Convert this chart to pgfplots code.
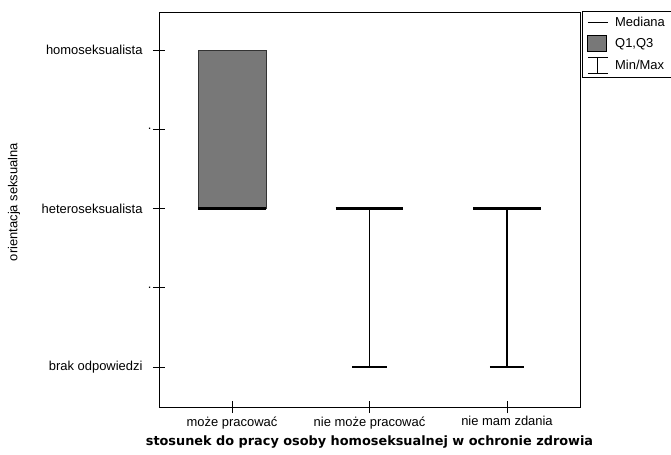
\documentclass[border=0pt]{standalone}
\usepackage{fontspec}
\setmainfont{Liberation Sans}
\newfontfamily\dejavu{DejaVu Sans}
\usepackage{pgfplots}
\pgfplotsset{compat=1.18}
\definecolor{boxgray}{gray}{0.47}
\begin{document}
\begin{tikzpicture}
\begin{axis}[
  scale only axis, width=421bp, height=395bp,
  xmin=0.469, xmax=3.531, ymin=-0.505, ymax=4.48,
  xtick={1,2,3}, xticklabels={może pracować, nie może pracować, nie mam zdania},
  ytick={0,1,2,3,4}, yticklabels={brak odpowiedzi,.\hspace*{-9bp},heteroseksualista,.\hspace*{-9bp},homoseksualista},
  xtick pos=bottom, ytick pos=left, tick align=center, major tick length=12bp,
  tick style={black, line width=0.8bp},
  axis line style={line width=0.8bp},
  ticklabel style={font=\fontsize{13}{15}\selectfont},
  yticklabel style={xshift=-7bp},
  xlabel={stosunek do pracy osoby homoseksualnej w ochronie zdrowia},
  xlabel style={font=\dejavu\bfseries\fontsize{12.9}{15}\selectfont, at={(rel axis cs:0.5,0)}, anchor=center, yshift=-35bp},
  ylabel={orientacja seksualna},
  ylabel style={font=\fontsize{13}{15}\selectfont, at={([xshift=-145bp]rel axis cs:0,0.519)}, anchor=center},
  no markers,
  legend style={at={(rel axis cs:1,1)}, anchor=north west, xshift=2bp, yshift=1bp, draw=black, line width=0.8bp,
    font=\fontsize{13}{15}\selectfont, row sep=5bp, inner xsep=5bp, inner ysep=4bp, cells={anchor=west},
    /tikz/column 1/.style={column sep=5bp}},
  legend cell align=left,
]
\addlegendimage{legend image code/.code={\draw[black,line width=0.8bp] (0bp,0bp) -- (20bp,0bp);}}
\addlegendentry{Mediana}
\addlegendimage{legend image code/.code={\draw[fill=boxgray, draw=black, line width=0.8bp] (0bp,-8bp) rectangle (19bp,8bp);}}
\addlegendentry{Q1,Q3}
\addlegendimage{legend image code/.code={\draw[black,line width=0.8bp] (0bp,-8bp) -- (20bp,-8bp) (10bp,-8bp) -- (10bp,8bp) (0bp,8bp) -- (20bp,8bp);}}
\addlegendentry{Min/Max}

% box Q1-Q3 for category 1
\addplot[forget plot, fill=boxgray, draw=black!80, line width=0.8bp] coordinates {(0.753,2) (1.247,2) (1.247,4) (0.753,4)} -- cycle;
% whiskers
\addplot[forget plot, black, line width=1.3bp] coordinates {(2,2) (2,0)};
\addplot[forget plot, black, line width=1.3bp] coordinates {(1.876,0) (2.124,0)};
\addplot[forget plot, black, line width=1.3bp] coordinates {(3,2) (3,0)};
\addplot[forget plot, black, line width=1.3bp] coordinates {(2.876,0) (3.124,0)};
% medians
\addplot[forget plot, black, line width=3.5bp] coordinates {(0.753,2) (1.247,2)};
\addplot[forget plot, black, line width=3.5bp] coordinates {(1.753,2) (2.247,2)};
\addplot[forget plot, black, line width=3.5bp] coordinates {(2.753,2) (3.247,2)};
\end{axis}
\pgfresetboundingbox
\path[use as bounding box] (-159bp,-48bp) rectangle (512bp,407bp);
\end{tikzpicture}
\end{document}
